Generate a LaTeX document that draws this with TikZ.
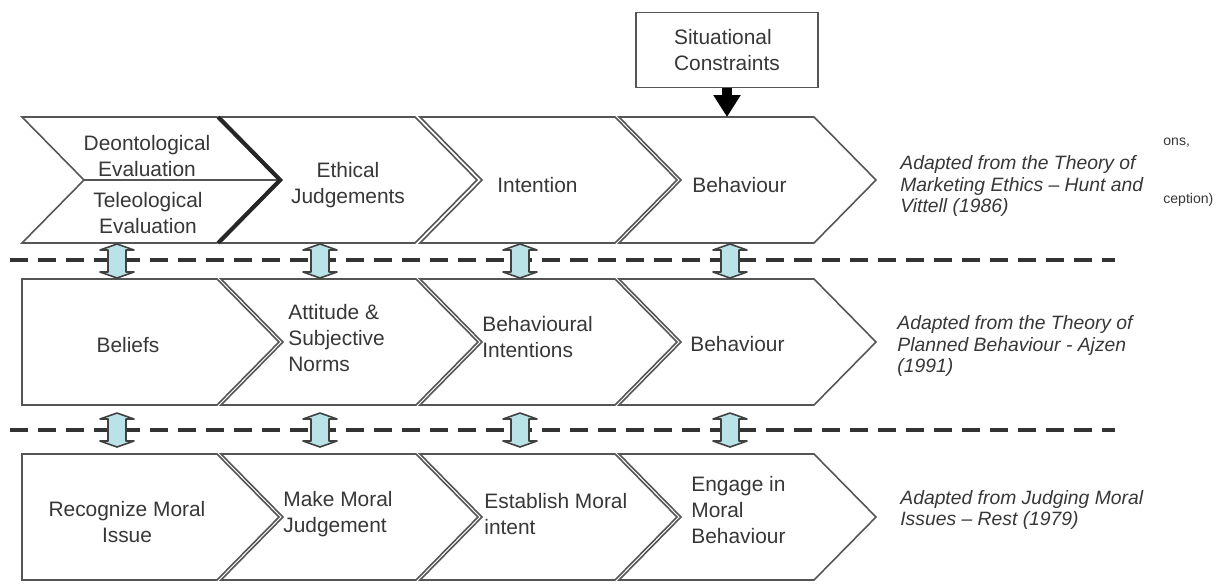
\documentclass[tikz,border=0pt]{standalone}
\usepackage{fontspec}
\setmainfont{Liberation Sans}
\usetikzlibrary{arrows.meta, positioning}
\definecolor{linegray}{RGB}{85,85,85}
\definecolor{textgray}{RGB}{55,55,55}
\definecolor{arrowfill}{RGB}{185,227,231}
\tikzstyle{every node}=[font=\fontsize{11.9}{14.6}\selectfont, text=textgray, inner sep=0pt]
\tikzstyle{stage}=[draw=linegray, line width=0.9pt, fill=white, line join=miter]
\tikzstyle{source}=[font=\fontsize{11}{12}\selectfont\itshape, align=left, anchor=west]
\tikzstyle{updown}=[draw=black!75, fill=arrowfill, line width=0.9pt, line join=round]
\tikzstyle{divider}=[draw=black!80, line width=2.2pt, dash pattern=on 0.36cm off 0.2cm]
\tikzstyle{bigarrow}=[line width=0.2cm, -{Triangle[length=0.44cm,width=0.52cm]}]
% #1 left x, #2 top y, #3 depth of the left notch (0 = flat)
\newcommand{\stagebox}[3]{\draw[stage] (#1,#2) -- ++(195,0) -- ++(62,63) -- ++(-62,63) -- ++(-195,0) -- ++(#3,-63) -- cycle;}
% two-headed block arrow round a named coordinate
\newcommand{\updown}[1]{\draw[updown] (#1) ++(0,-17) -- ++(17,6) -- ++(-8,0) -- ++(0,22) -- ++(8,0) -- ++(-17,6) -- ++(-17,-6) -- ++(8,0) -- ++(0,-22) -- ++(-8,0) -- cycle;}

\begin{document}
\begin{tikzpicture}[x=0.02cm, y=-0.02cm]
    \useasboundingbox (0,0) rectangle (1222,583);
    % Hunt and Vitell row
    \stagebox{22}{117}{62}
    \draw[stage] (84,180) -- (279,180);
    \stagebox{220}{117}{62}
    \stagebox{420}{117}{62}
    \stagebox{619}{117}{62}
    \draw[black!85, line width=2.2pt] (218,117) -- (280,180) -- (218,243);
    % Ajzen row
    \stagebox{22}{279}{0}
    \stagebox{221}{279}{62}
    \stagebox{420}{279}{62}
    \stagebox{619}{279}{62}
    % Rest row
    \stagebox{22}{454}{0}
    \stagebox{221}{454}{62}
    \stagebox{420}{454}{62}
    \stagebox{619}{454}{62}
    \draw[divider] (10,260) -- (1115,260);
    \draw[divider] (10,430) -- (1115,430);
    \foreach \x [count=\i] in {117,320,520,730} {
        \coordinate (upA\i) at (\x,261);
        \coordinate (upB\i) at (\x,430);
        \updown{upA\i}
        \updown{upB\i}
    }
    \node[draw=linegray, line width=0.9pt, fill=white, minimum width=3.64cm, minimum height=1.5cm, align=left] (sitc) at (727,50) {Situational\\Constraints};
    \coordinate (behtop) at (727,117);
    \draw[bigarrow] (sitc) -- (behtop);
    \node[align=center] (deon) at (147,156) {Deontological\\Evaluation};
    \node[align=center] (teleo) at (148,213) {Teleological\\Evaluation};
    \node[align=center] (ethic) at (348,185) {Ethical\\Judgements};
    \node[anchor=west] (inten) at (497,185) {Intention};
    \node[anchor=west] (behavA) at (692,185) {Behaviour};
    \node[] (belief) at (128,345) {Beliefs};
    \node[anchor=west, align=left] (attit) at (288,338) {Attitude \&\\Subjective\\Norms};
    \node[anchor=west, align=left] (bint) at (482,337) {Behavioural\\Intentions};
    \node[anchor=west] (behavB) at (690,344) {Behaviour};
    \node[align=center] (recog) at (127,522) {Recognize Moral\\Issue};
    \node[anchor=west, align=left] (judge) at (283,514) {Make Moral\\Judgement};
    \node[anchor=west, align=left] (estab) at (484,514) {Establish Moral\\intent};
    \node[anchor=west, align=left] (engage) at (691,510) {Engage in\\Moral\\Behaviour};
    \node[source] (srcA) at (900,186) {Adapted from the Theory of\\Marketing Ethics – Hunt and\\Vittell (1986)};
    \node[source] (srcB) at (897,346) {Adapted from the Theory of\\Planned Behaviour - Ajzen\\(1991)};
    \node[source] (srcC) at (900,510) {Adapted from Judging Moral\\Issues – Rest (1979)};
    \node[anchor=west, font=\fontsize{8}{9}\selectfont] (cutA) at (1163,143) {ons,};
    \node[anchor=west, font=\fontsize{8}{9}\selectfont] (cutB) at (1163,200) {ception)};
\end{tikzpicture}
\end{document}
